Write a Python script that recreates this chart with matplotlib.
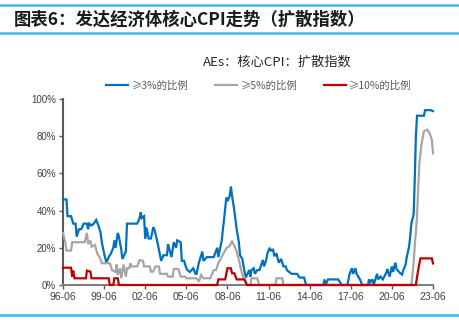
import matplotlib.pyplot as plt
import matplotlib.dates as mdates
from matplotlib.lines import Line2D
import pandas as pd

plt.rcParams['font.family'] = ['Noto Sans CJK SC', 'DejaVu Sans']

# ≥3%的比例
blue_dates = ['1996-06', '1996-09', '1996-10', '1997-01', '1997-03', '1997-05', '1997-06', '1997-08',
              '1997-10', '1997-12', '1998-03', '1998-04', '1998-05', '1998-07', '1998-09', '1998-11',
              '1999-01', '1999-03', '1999-04', '1999-06', '1999-08', '1999-10', '1999-12', '2000-02',
              '2000-03', '2000-04', '2000-06', '2000-07', '2000-09', '2000-10', '2001-01', '2001-02',
              '2001-11', '2002-01', '2002-02', '2002-03', '2002-05', '2002-06', '2002-07', '2002-09',
              '2002-11', '2003-01', '2003-02', '2003-04', '2003-06', '2003-08', '2003-10', '2004-01',
              '2004-02', '2004-05', '2004-07', '2004-09', '2004-10', '2005-01', '2005-02', '2005-04',
              '2005-06', '2005-07', '2005-09', '2005-12', '2006-02', '2006-03', '2006-05', '2006-06',
              '2006-08', '2006-09', '2006-12', '2007-06', '2007-09', '2007-10', '2008-01', '2008-02',
              '2008-03', '2008-05', '2008-06', '2008-08', '2008-09', '2008-10', '2008-12', '2009-02',
              '2009-04', '2009-05', '2009-07', '2009-09', '2009-10', '2010-01', '2010-02', '2010-03',
              '2010-05', '2010-06', '2010-08', '2010-10', '2011-01', '2011-02', '2011-04', '2011-05',
              '2011-07', '2011-08', '2011-10', '2011-11', '2012-01', '2012-02', '2012-03', '2012-05',
              '2012-07', '2012-09', '2012-10', '2013-02', '2013-07', '2013-09', '2014-01', '2014-03',
              '2015-06', '2015-07', '2015-08', '2015-10', '2016-07', '2016-10', '2017-03', '2017-05',
              '2017-07', '2017-08', '2017-10', '2017-11', '2018-02', '2018-04', '2018-09', '2018-10',
              '2018-11', '2019-01', '2019-02', '2019-05', '2019-06', '2019-08', '2019-10', '2020-01',
              '2020-02', '2020-04', '2020-06', '2020-07', '2020-09', '2020-10', '2021-01', '2021-03',
              '2021-04', '2021-06', '2021-07', '2021-09', '2021-10', '2021-11', '2022-01', '2022-02',
              '2022-03', '2022-04', '2022-10', '2022-11', '2023-04', '2023-06']
blue_vals = [46, 46, 37, 37, 33, 33, 26, 30,
             30, 33, 33, 30, 33, 32, 33, 35,
             32, 28, 23, 17, 12, 15, 17, 20,
             24, 20, 28, 26, 19, 14, 18, 33,
             33, 36, 39, 36, 37, 25, 31, 25,
             25, 31, 30, 25, 19, 13, 16, 16,
             22, 15, 23, 20, 24, 23, 13, 13,
             9, 8, 7, 9, 6, 6, 12, 14,
             18, 13, 15, 15, 20, 15, 24, 30,
             35, 47, 45, 48, 53, 48, 40, 30,
             23, 16, 14, 7, 4, 8, 4.5, 8,
             9, 6, 8, 8, 13.5, 10, 13.5, 17,
             20, 18.5, 19, 15.5, 17, 14, 12, 14,
             10, 10, 8, 6, 6, 4, 4, 0,
             0, 3, 0, 3, 3, 0, 0, 6,
             9, 6, 9, 6, 3, 0, 0, 3,
             1.5, 3, 0, 6, 3, 4.5, 3, 6.5,
             8.6, 4.5, 10, 7, 12, 8.6, 6.5, 5.6,
             8, 11, 15, 20.6, 26, 33, 38, 58,
             80, 91, 91, 94, 94, 93.5]

# ≥5%的比例
gray_dates = ['1996-06', '1996-08', '1996-09', '1997-01', '1997-02', '1998-01', '1998-03', '1998-04',
              '1998-06', '1998-07', '1998-10', '1998-12', '1999-02', '1999-04', '1999-11', '2000-01',
              '2000-04', '2000-05', '2000-06', '2000-08', '2000-09', '2000-11', '2001-01', '2001-02',
              '2001-04', '2001-05', '2001-06', '2001-11', '2002-01', '2002-04', '2002-05', '2002-10',
              '2002-11', '2003-01', '2003-03', '2003-06', '2003-07', '2004-01', '2004-02', '2004-06',
              '2004-07', '2004-11', '2005-01', '2005-05', '2005-06', '2006-03', '2006-05', '2006-07',
              '2006-09', '2007-03', '2007-06', '2007-08', '2007-10', '2008-01', '2008-03', '2008-05',
              '2008-08', '2008-10', '2008-12', '2009-02', '2009-04', '2009-06', '2009-08', '2009-11',
              '2010-02', '2010-03', '2010-08', '2010-10', '2011-12', '2012-01', '2012-06', '2012-07',
              '2021-11', '2022-01', '2022-02', '2022-03', '2022-04', '2022-05', '2022-06', '2022-08',
              '2022-10', '2023-01', '2023-03', '2023-05', '2023-06']
gray_vals = [28, 23, 18.5, 18.5, 23, 23, 28, 22,
             24, 20.6, 21.5, 17, 15, 11.7, 11.7, 8,
             7, 11, 5.4, 9, 3.6, 11, 4.5, 9,
             9, 11.7, 10, 10, 13.4, 13, 10, 10,
             7.2, 7.2, 10, 10, 6, 6, 4.5, 4.5,
             8.6, 8.6, 4.5, 4.5, 3.6, 3.6, 1.8, 5.4,
             3.6, 3.6, 8, 8, 11.7, 15.2, 17.4, 19.7,
             21, 23.8, 21, 18, 13.4, 8, 3.6, 0,
             0, 3.6, 3.6, 0, 0, 3.6, 3.6, 0,
             0, 11.6, 22, 28, 37, 51, 65, 76,
             82.6, 83.5, 81.7, 78, 70.8]

# ≥10%的比例
red_dates = ['1996-06', '1997-01', '1997-02', '1997-03', '1997-04', '1998-02', '1998-03', '1998-06',
             '1998-07', '1999-10', '1999-11', '2000-02', '2000-03', '2000-06', '2000-07', '2007-09',
             '2007-10', '2008-04', '2008-06', '2008-09', '2008-10', '2008-12', '2009-02', '2009-09',
             '2009-11', '2022-03', '2022-05', '2022-07', '2023-05', '2023-06']
red_vals = [9.3, 9.3, 4.5, 7.7, 3.6, 3.6, 7.7, 7.2,
            3.6, 3.6, 0, 0, 3.6, 3.6, 0, 0,
            3, 3, 9, 9, 6.3, 6.3, 3, 3,
            0, 0, 8, 14.3, 14.3, 11.6]

series_labels = ['≥3%的比例', '≥5%的比例', '≥10%的比例']
colors = ['#0070C0', '#A6A6A6', '#C00000']
tick_years = list(range(1996, 2024, 3))

fig = plt.figure(figsize=(4.6, 3.25), dpi=100)
ax = fig.add_axes([63 / 460, 40 / 325, 370 / 460, 186 / 325])

series = [(blue_dates, blue_vals), (gray_dates, gray_vals), (red_dates, red_vals)]
for (d, v), c, lab in zip(series, colors, series_labels):
    ax.plot(pd.to_datetime(d), [x / 100 for x in v], color=c, lw=1.6, label=lab,
            clip_on=False, zorder=3, solid_joinstyle='miter')

ax.set_xlim(pd.Timestamp('1996-06-01'), pd.Timestamp('2023-06-01'))
ax.set_ylim(0, 1.0)
ax.set_yticks([0, 0.2, 0.4, 0.6, 0.8, 1.0])
ax.set_yticklabels(['0%', '20%', '40%', '60%', '80%', '100%'])
ax.set_xticks([pd.Timestamp(f'{y}-06-01') for y in tick_years])
ax.xaxis.set_major_formatter(mdates.DateFormatter('%y-%m'))

for s in ['top', 'right']:
    ax.spines[s].set_visible(False)
ax.spines['left'].set_color('#595959')
ax.spines['left'].set_linewidth(1.5)
ax.spines['bottom'].set_color('#7F7F7F')
ax.spines['bottom'].set_linewidth(1.5)
ax.tick_params(axis='y', length=3, width=1, color='#595959', labelsize=7, labelcolor='#404040', pad=2)
ax.tick_params(axis='x', length=3, width=1, color='#595959', labelsize=7.5, labelcolor='#404040', pad=2)
for t in ax.get_xticklabels() + ax.get_yticklabels():
    t.set_fontfamily(['Liberation Sans', 'DejaVu Sans'])

# 图例
handles = [Line2D([], [], color=c, lw=1.6) for c in colors]
fig.legend(handles, series_labels, loc='center left', bbox_to_anchor=(106 / 460, 1 - 86 / 325),
           ncol=3, frameon=False, fontsize=7.5, handlelength=2.1, handletextpad=0.35,
           columnspacing=2.55, labelcolor='#595959', borderaxespad=0, borderpad=0)

# 标题与装饰线
fig.text(14 / 460, 1 - 20 / 325, '图表6：发达经济体核心CPI走势（扩散指数）', fontsize=12.5,
         fontweight='bold', va='center', ha='left', color='#1a1a1a')
fig.text(277 / 460, 1 - 62 / 325, 'AEs：核心CPI：扩散指数', fontsize=9.5, va='center',
         ha='center', color='#262626')
for yy in [5, 33, 315]:
    fig.add_artist(Line2D([0, 458 / 460], [1 - yy / 325] * 2, color='#3FB8E8', lw=1.8))

plt.savefig('out.png', dpi=100)
